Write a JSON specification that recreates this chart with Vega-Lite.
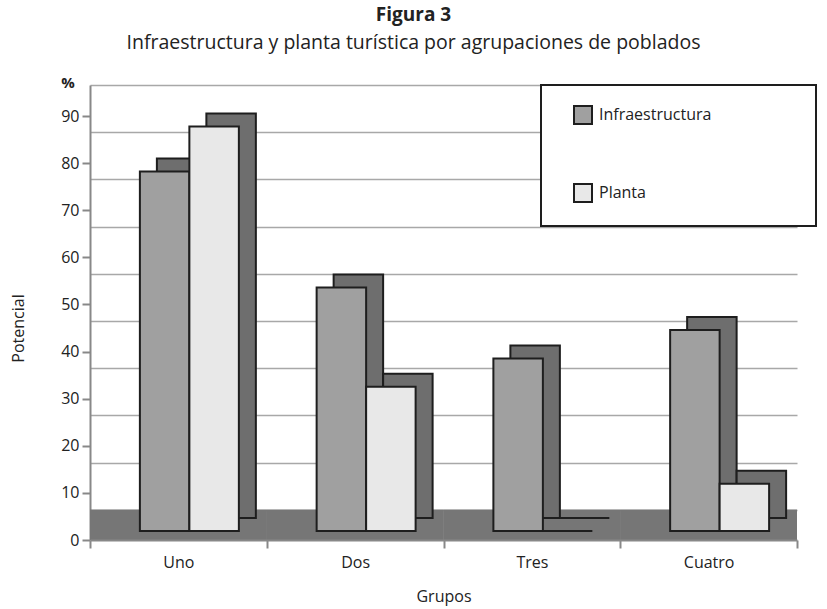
{
  "$schema": "https://vega.github.io/schema/vega-lite/v6.json",
  "width": 707,
  "height": 455,
  "autosize": {"type": "none"},
  "padding": {"left": 90, "top": 85, "right": 30, "bottom": 69},
  "background": "white",
  "config": {
    "font": "Open Sans",
    "view": {"stroke": null},
    "axis": {"labelColor": "#222", "titleColor": "#222", "labelFontSize": 16, "titleFontSize": 16, "titleFontWeight": "normal", "labelFont": "Open Sans", "titleFont": "Open Sans"},
    "legend": {"strokeWidth": 2}
  },
  "title": {
    "text": "Figura 3",
    "subtitle": "Infraestructura y planta turística por agrupaciones de poblados",
    "anchor": "middle",
    "dx": -30,
    "fontSize": 19,
    "fontWeight": "bold",
    "subtitleFontSize": 19.5,
    "color": "#222",
    "subtitleColor": "#222",
    "offset": 24,
    "subtitlePadding": 9
  },
  "data": {
    "values": [
      {"grupo": "Uno", "serie": "Infraestructura", "valor": 76},
      {"grupo": "Uno", "serie": "Planta", "valor": 85.5},
      {"grupo": "Dos", "serie": "Infraestructura", "valor": 51.5},
      {"grupo": "Dos", "serie": "Planta", "valor": 30.5},
      {"grupo": "Tres", "serie": "Infraestructura", "valor": 36.5},
      {"grupo": "Tres", "serie": "Planta", "valor": 0},
      {"grupo": "Cuatro", "serie": "Infraestructura", "valor": 42.5},
      {"grupo": "Cuatro", "serie": "Planta", "valor": 10}
    ]
  },
  "layer": [
    {
      "mark": {"type": "rect", "fill": "#767676"},
      "encoding": {
        "x": {
          "field": "grupo", "type": "nominal", "sort": ["Uno", "Dos", "Tres", "Cuatro"],
          "scale": {"paddingInner": 0, "paddingOuter": 0},
          "axis": {"title": "Grupos", "labelAngle": 0, "tickBand": "extent", "tickSize": 8, "tickColor": "#888", "tickWidth": 2, "domainColor": "#888", "domainWidth": 2, "labelPadding": 6, "titlePadding": 18}
        },
        "y": {
          "datum": 0, "type": "quantitative",
          "scale": {"domain": [-6.4, 90], "nice": false, "zero": false},
          "axis": {"orient": "right", "grid": true, "gridColor": "#a8a8a8", "gridWidth": 1.5, "labels": false, "ticks": false, "domain": false, "title": null, "values": [0, 10, 20, 30, 40, 50, 60, 70, 80, 90]}
        },
        "y2": {"datum": -6.4}
      }
    },
    {
      "data": {"values": [{"simbolo": "%"}]},
      "mark": {"type": "text", "fontSize": 15, "fontWeight": "bold", "color": "#222", "baseline": "middle"},
      "encoding": {
        "text": {"field": "simbolo"},
        "x": {"value": -22},
        "y": {
          "datum": 97, "type": "quantitative",
          "scale": {"domain": [0, 96.6], "nice": false},
          "axis": {"orient": "left", "values": [0, 10, 20, 30, 40, 50, 60, 70, 80, 90], "grid": false, "tickSize": 8, "tickColor": "#888", "tickWidth": 2, "domainColor": "#888", "domainWidth": 2, "labelPadding": 3, "title": "Potencial", "titlePadding": 34, "titleY": 243}
        }
      }
    },
    {
      "mark": {"type": "bar", "fill": "#6e6e6e", "stroke": "#1e1e1e", "strokeWidth": 2, "yOffset": -13, "y2Offset": -13},
      "encoding": {
        "x": {"field": "grupo", "type": "nominal", "sort": ["Uno", "Dos", "Tres", "Cuatro"], "scale": {"range": [28, 735], "paddingInner": 0.44, "paddingOuter": 0.22}, "axis": null},
        "xOffset": {"field": "serie", "sort": ["Infraestructura", "Planta"]},
        "y": {"field": "valor", "type": "quantitative", "scale": {"domain": [-1.9, 94.3], "nice": false}, "axis": null}
      }
    },
    {
      "mark": {"type": "bar", "stroke": "#1e1e1e", "strokeWidth": 2},
      "encoding": {
        "x": {"field": "grupo", "type": "nominal", "sort": ["Uno", "Dos", "Tres", "Cuatro"], "scale": {"range": [11, 718], "paddingInner": 0.44, "paddingOuter": 0.22}, "axis": null},
        "xOffset": {"field": "serie", "sort": ["Infraestructura", "Planta"]},
        "y": {"field": "valor", "type": "quantitative", "scale": {"domain": [-1.9, 94.3], "nice": false}, "axis": null},
        "fill": {
          "field": "serie", "type": "nominal",
          "scale": {"domain": ["Infraestructura", "Planta"], "range": ["#a0a0a0", "#e8e8e8"]},
          "legend": {"orient": "none", "legendX": 451, "legendY": 0, "title": null, "strokeColor": "#1e1e1e", "fillColor": "white", "padding": 20, "symbolOffset": 12, "symbolType": "square", "symbolSize": 324, "symbolStrokeColor": "#1e1e1e", "symbolStrokeWidth": 2, "labelFontSize": 16, "labelColor": "#222", "labelOffset": 6, "labelLimit": 0, "rowPadding": 52, "labelExpr": "datum.label == 'Infraestructura' ? pad(datum.label, 22, '\u2800') : datum.label"}
        }
      }
    }
  ],
  "resolve": {"scale": {"x": "independent", "y": "independent"}}
}
